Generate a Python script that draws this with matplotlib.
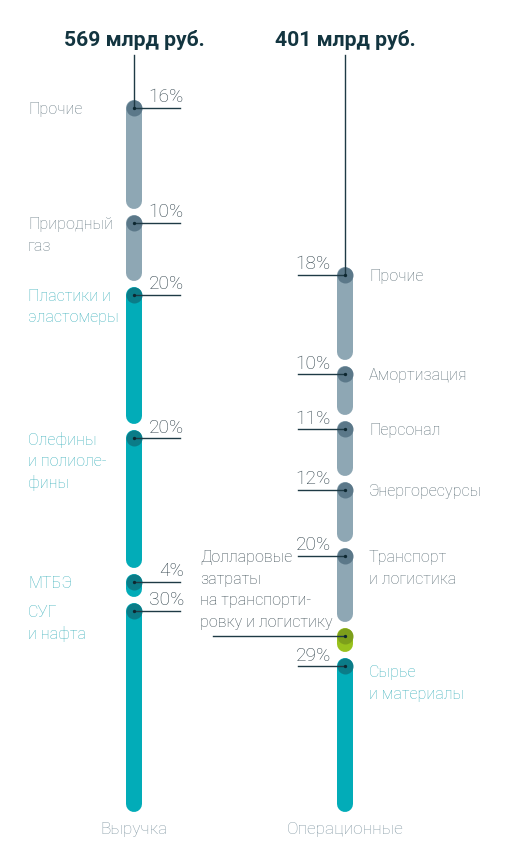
import matplotlib
matplotlib.use("Agg")
import matplotlib.pyplot as plt

# ---------------- data ----------------
rev_title = "569 млрд руб."
rev_total = 569
rev_labels = ["Прочие", "Природный\nгаз", "Пластики и\nэластомеры",
              "Олефины\nи полиоле-\nфины", "МТБЭ", "СУГ\nи нафта"]
rev_pct = [16, 10, 20, 20, 4, 30]
rev_kind = ["grey", "grey", "teal", "teal", "teal", "teal"]

opex_title = "401 млрд руб."
opex_total = 401
opex_labels = ["Прочие", "Амортизация", "Персонал", "Энергоресурсы",
               "Транспорт\nи логистика", "Сырье\nи материалы"]
opex_pct = [18, 10, 11, 12, 20, 29]
opex_kind = ["grey", "grey", "grey", "grey", "grey", "teal"]
usd_transport_bln = 22  # estimated part of transport costs in USD
usd_label = "Долларовые\nзатраты\nна транспорти-\nровку и логистику"

bottom_labels = ["Выручка", "Операционные"]

# ---------------- style ----------------
W, H = 510, 841
DPI = 100
FONT = ["Roboto", "DejaVu Sans"]
bar_col = {"grey": "#8ea7b4", "teal": "#02acb8", "green": "#98c11d"}
dot_col = {"grey": "#5b7889", "teal": "#0b7c88", "green": "#7d9f1b"}
lab_col = {"grey": "#6c7e87", "teal": "#45b4bf"}
pct_col = "#2f414a"
line_col = "#1e3a45"
title_col = "#133540"

LAB_FS = 11.6
PCT_FS = 13.8
LINE_PX = 21.8

BAR_W_PX = 16
GAP_PX = 6
lw_pt = BAR_W_PX * 72 / DPI

fig = plt.figure(figsize=(W / DPI, H / DPI), dpi=DPI)
fig.patch.set_facecolor("white")


def make_axes(top_px, bot_px, total):
    ax = fig.add_axes([0, (H - bot_px) / H, 1, (bot_px - top_px) / H])
    ax.set_xlim(0, W)
    ax.set_ylim(total, 0)
    ax.axis("off")
    ax.patch.set_alpha(0)
    return ax, (bot_px - top_px) / total


def px_to_data_y(ax, ypx):
    return ax.transData.inverted().transform((0, H - ypx))[1]


def draw_bar(ax, ppu, x, values, kinds):
    gap_u = GAP_PX / ppu
    r_u = (BAR_W_PX / 2) / ppu
    centers = []
    c = 0.0
    for v, k in zip(values, kinds):
        y0 = c + gap_u / 2 + r_u
        y1 = c + v - gap_u / 2 - r_u
        if y1 <= y0:
            y1 = y0 + 1e-3
        ax.plot([x, x], [y0, y1], color=bar_col[k], lw=lw_pt,
                solid_capstyle="round", zorder=2)
        ax.plot([x], [y0], "o", ms=lw_pt, mfc=dot_col[k], mec="none", zorder=3)
        ax.plot([x], [y0], "o", ms=2.4, mfc="#0d2730", mec="none", zorder=6)
        centers.append(y0)
        c += v
    return centers


def label(ax, x, y, text, color, dy0=0.0, fs=LAB_FS, step=LINE_PX):
    for i, line in enumerate(text.split("\n")):
        ax.annotate(line, (x, y), xytext=(0, -(dy0 + i * step) * 72 / DPI),
                    textcoords="offset points", ha="left",
                    va="center_baseline", fontsize=fs, color=color,
                    family=FONT, fontweight="light", annotation_clip=False)


# ---------------- left bar: revenue ----------------
LX = 134
axL, ppuL = make_axes(97, 815, rev_total)
rev_vals = [p * rev_total / 100 for p in rev_pct]
cL = draw_bar(axL, ppuL, LX, rev_vals, rev_kind)
for yc, p, lab, k in zip(cL, rev_pct, rev_labels, rev_kind):
    axL.plot([LX, 180], [yc, yc], color=line_col, lw=1.0, zorder=4)
    axL.annotate(f"{p}%", (184, yc), xytext=(0, 4), textcoords="offset points",
                 ha="right", va="baseline", fontsize=PCT_FS, color=pct_col,
                 family=FONT, fontweight="light")
    label(axL, 28, yc, lab, lab_col[k])
yt = px_to_data_y(axL, 55)
axL.plot([LX, LX], [yt, cL[0]], color=line_col, lw=1.0, zorder=4, clip_on=False)

# ---------------- right bar: operating costs ----------------
RX = 345
axR, ppuR = make_axes(264, 815, opex_total)
opex_vals = [p * opex_total / 100 for p in opex_pct]
tr_idx = 4
vals_R = opex_vals[:tr_idx] + [opex_vals[tr_idx] - usd_transport_bln,
                               usd_transport_bln] + opex_vals[tr_idx + 1:]
kinds_R = opex_kind[:tr_idx] + ["grey", "green"] + opex_kind[tr_idx + 1:]
cR_all = draw_bar(axR, ppuR, RX, vals_R, kinds_R)
usd_y = cR_all[tr_idx + 1]
cR = cR_all[:tr_idx + 1] + cR_all[tr_idx + 2:]
for yc, p, lab, k in zip(cR, opex_pct, opex_labels, opex_kind):
    axR.plot([298, RX], [yc, yc], color=line_col, lw=1.0, zorder=4)
    axR.annotate(f"{p}%", (331, yc), xytext=(0, 4), textcoords="offset points",
                 ha="right", va="baseline", fontsize=PCT_FS, color=pct_col,
                 family=FONT, fontweight="light")
    label(axR, 369, yc, lab, lab_col[k] if k == "teal" else "#5f7179",
          dy0=5 if k == "teal" else 0)
# USD part of transport
axR.plot([213, RX], [usd_y, usd_y], color=line_col, lw=1.0, zorder=4)
label(axR, 200, cR[tr_idx], usd_label, "#3f4f57", step=21.7)
yt = px_to_data_y(axR, 55)
axR.plot([RX, RX], [yt, cR[0]], color=line_col, lw=1.0, zorder=4, clip_on=False)

# ---------------- titles & bottom labels ----------------
axT = fig.add_axes([0, 0, 1, 1])
axT.set_xlim(0, W)
axT.set_ylim(H, 0)
axT.axis("off")
axT.patch.set_alpha(0)
for x, t in ((LX, rev_title), (RX, opex_title)):
    axT.text(x, 38, t, ha="center", va="center_baseline", fontsize=15.2,
             fontweight="bold", color=title_col, family=FONT)
for x, t in ((LX, bottom_labels[0]), (RX, bottom_labels[1])):
    axT.text(x, 828, t, ha="center", va="center_baseline", fontsize=12.4,
             color="#869ba6", family=FONT, fontweight="light")

fig.savefig("out.png", dpi=DPI, facecolor="white")
